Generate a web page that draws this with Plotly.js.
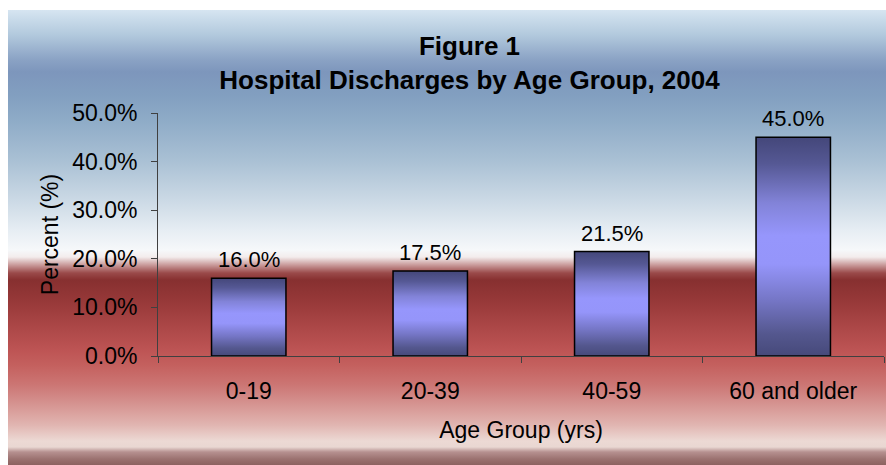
<!DOCTYPE html>
<html>
<head>
<meta charset="utf-8">
<script src="https://cdn.plot.ly/plotly-3.0.1.min.js"></script>
<style>
  html, body { margin: 0; padding: 0; background: #ffffff; }
  #wrap { position: relative; width: 886px; height: 465px; overflow: hidden; background: #ffffff; }
  #bg {
    position: absolute; left: 8px; top: 10px; width: 878px; height: 455px;
    background: linear-gradient(to bottom,
      #d6e5f1 0px, #b2c9dd 25px, #8aa2c4 50px, #7d96bc 62px, #829fc0 85px,
      #8eabc7 110px, #a9c0d4 150px, #cbd9e5 190px, #e6edf3 220px, #f6f8fa 240px,
      #f3ecec 247px, #c99a9a 255px, #9a4a4a 263px, #873030 270px, #963838 290px,
      #aa4646 315px, #bd5454 340px, #c4605e 355px, #cc7674 375px, #d69592 395px,
      #e1b5b1 415px, #ecd9d4 431px, #e9d7d2 437px, #b69190 442px, #9b7270 449px, #8c6260 455px);
  }
  #chart { position: absolute; left: 0; top: 0; width: 886px; height: 465px; }
</style>
</head>
<body>
<div id="wrap">
  <div id="bg"></div>
  <div id="chart"></div>
</div>
<script>
// ---- data ----
const categories = ["0-19", "20-39", "40-59", "60 and older"];
const percentValues = [16.0, 17.5, 21.5, 45.0];
const yTickValues = [0, 10, 20, 30, 40, 50];
const yTickLabels = ["0.0%", "10.0%", "20.0%", "30.0%", "40.0%", "50.0%"];
const titleLines = ["Figure 1", "Hospital Discharges by Age Group, 2004"];
const xAxisTitle = "Age Group (yrs)";
const yAxisTitle = "Percent (%)";

const FONT = "'Liberation Sans', Arial, sans-serif";

const trace = {
  type: "bar",
  x: categories,
  y: percentValues,
  marker: { color: "#8a8ae8", line: { color: "#000000", width: 1.5 } },
  hoverinfo: "none"
};

const annotations = categories.map((c, i) => ({
  x: c, y: percentValues[i], xref: "x", yref: "y",
  text: percentValues[i].toFixed(1) + "%",
  showarrow: false, yanchor: "bottom", yshift: 4,
  font: { family: FONT, size: 22, color: "#000000" }
}));

const layout = {
  width: 886, height: 465,
  paper_bgcolor: "rgba(0,0,0,0)",
  plot_bgcolor: "rgba(0,0,0,0)",
  margin: { l: 158, r: 2, t: 113, b: 109 },
  showlegend: false,
  bargap: 0.59,
  title: {
    text: titleLines[0] + "<br>" + titleLines[1],
    font: { family: FONT, size: 26, color: "#000000", weight: "bold" },
    x: 469.5 / 886, xref: "container", xanchor: "center",
    y: 1 - 55 / 465, yref: "container", yanchor: "middle"
  },
  xaxis: {
    type: "category",
    tickson: "boundaries",
    ticks: "outside", ticklen: 6, tickcolor: "#404040", tickwidth: 1,
    showline: true, linecolor: "#404040", linewidth: 1,
    showgrid: false, zeroline: false,
    tickfont: { family: FONT, size: 23, color: "#000000" },
    ticklabelstandoff: 14,
    title: { text: xAxisTitle, font: { family: FONT, size: 23, color: "#000000" }, standoff: 19 },
    automargin: false
  },
  yaxis: {
    range: [0, 50],
    tickvals: yTickValues, ticktext: yTickLabels,
    ticks: "outside", ticklen: 6, tickcolor: "#404040", tickwidth: 1,
    showline: true, linecolor: "#404040", linewidth: 1,
    showgrid: false, zeroline: false,
    tickfont: { family: FONT, size: 23, color: "#000000" },
    ticklabelstandoff: 9,
    title: { text: yAxisTitle, font: { family: FONT, size: 23, color: "#000000" }, standoff: 7 },
    automargin: false
  },
  annotations: annotations
};

Plotly.newPlot("chart", [trace], layout, { staticPlot: true, displayModeBar: false }).then(gd => {
  const svg = gd.querySelector("svg.main-svg");
  let defs = svg.querySelector("defs");
  if (!defs) { defs = document.createElementNS("http://www.w3.org/2000/svg", "defs"); svg.insertBefore(defs, svg.firstChild); }
  const ns = "http://www.w3.org/2000/svg";
  const grad = document.createElementNS(ns, "linearGradient");
  grad.setAttribute("id", "barGrad");
  grad.setAttribute("x1", "0"); grad.setAttribute("y1", "0");
  grad.setAttribute("x2", "0"); grad.setAttribute("y2", "1");
  const stops = [[0, "#44477a"], [0.12, "#555894"], [0.3, "#8283d8"], [0.45, "#9696fc"], [0.58, "#9595fa"], [0.75, "#7475c4"], [0.9, "#54578e"], [1, "#46497a"]];
  stops.forEach(([o, c]) => {
    const s = document.createElementNS(ns, "stop");
    s.setAttribute("offset", o); s.setAttribute("stop-color", c);
    grad.appendChild(s);
  });
  defs.appendChild(grad);
  gd.querySelectorAll(".bars path").forEach(p => { p.style.fill = "url(#barGrad)"; });
});
</script>
</body>
</html>
